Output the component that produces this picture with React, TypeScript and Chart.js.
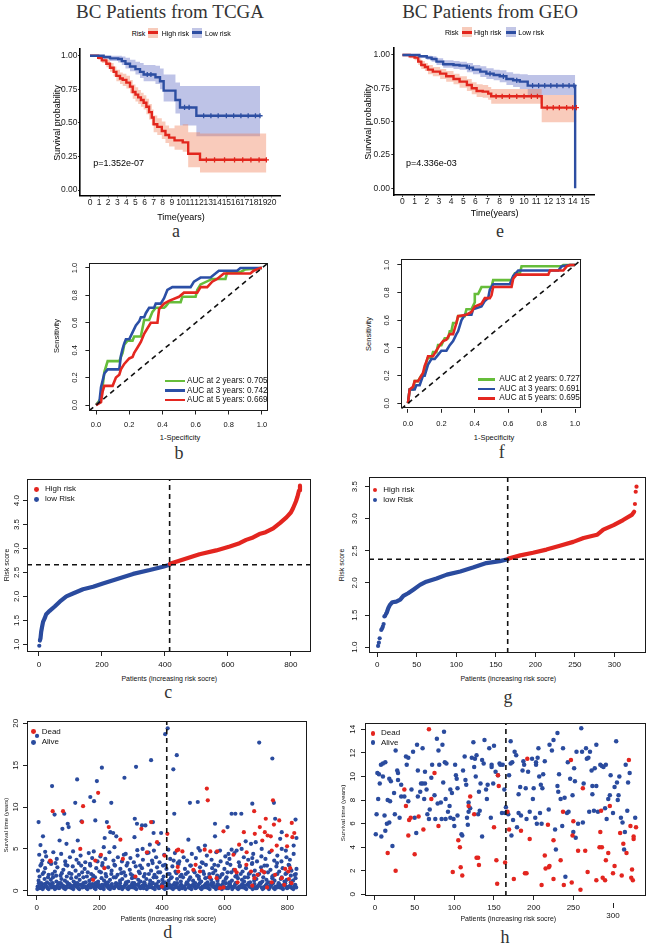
import React, { useEffect, useRef } from "react";
import { Chart, registerables } from "chart.js";

Chart.register(...registerables);

const SANS = "'Liberation Sans', Arial, Helvetica, sans-serif";
const SERIF = "'Liberation Serif', 'Times New Roman', Times, serif";
Chart.defaults.font.family = SANS;

/* ================= colours ================= */
const KM_RED = "#E2261D";
const KM_BLUE = "#2D4EA2";
const KM_RED_BAND = "rgba(240,125,85,0.40)";
const KM_BLUE_BAND = "rgba(85,98,192,0.38)";
const KM_RED_KEY = "#F7CBBB";
const KM_BLUE_KEY = "#C2C6E6";
const PT_RED = "#E3251F";
const PT_BLUE = "#2A4B9E";
const ROC_GREEN = "#66BD3A";
const ROC_BLUE = "#2B4FA6";
const ROC_RED = "#E42720";

/* ================= a: KM, TCGA ================= */
const A_X_TICKS = [0, 1, 2, 3, 4, 5, 6, 7, 8, 9, 10, 11, 12, 13, 14, 15, 16, 17, 18, 19, 20];
const A_X_LABELS = A_X_TICKS.map(String);
const KM_Y_TICKS = [0, 0.25, 0.5, 0.75, 1];
const KM_Y_LABELS = ["0.00", "0.25", "0.50", "0.75", "1.00"];

const A_HIGH_T = [0, 0.9, 1.3, 1.8, 2.2, 2.6, 2.9, 3.3, 3.6, 4.0, 4.4, 4.7, 5.0, 5.3, 5.6, 5.9, 6.2, 6.5, 6.8, 7.0, 7.4, 7.9, 8.3, 8.7, 9.3, 10.2, 10.8, 12.1, 19.4];
const A_HIGH_S = [1, 0.985, 0.965, 0.94, 0.91, 0.88, 0.85, 0.83, 0.82, 0.8, 0.77, 0.73, 0.71, 0.69, 0.67, 0.65, 0.62, 0.58, 0.54, 0.49, 0.47, 0.44, 0.41, 0.39, 0.37, 0.355, 0.27, 0.225, 0.225];
const A_HIGH_U = [1, 1, 1, 0.97, 0.945, 0.92, 0.895, 0.875, 0.865, 0.85, 0.82, 0.785, 0.765, 0.745, 0.725, 0.705, 0.68, 0.64, 0.6, 0.555, 0.535, 0.51, 0.48, 0.46, 0.48, 0.49, 0.43, 0.42, 0.42];
const A_HIGH_L = [1, 0.97, 0.945, 0.915, 0.88, 0.845, 0.81, 0.79, 0.775, 0.755, 0.72, 0.68, 0.66, 0.64, 0.62, 0.6, 0.565, 0.525, 0.485, 0.43, 0.41, 0.38, 0.35, 0.325, 0.3, 0.285, 0.17, 0.13, 0.13];
const A_HIGH_CENS = [[12.8, 0.225], [13.7, 0.225], [14.8, 0.225], [15.9, 0.225], [16.8, 0.225], [17.7, 0.225], [18.6, 0.225], [19.4, 0.225]];

const A_LOW_T = [0, 1.5, 2.2, 3.1, 3.5, 3.9, 4.4, 5.0, 5.5, 5.9, 7.2, 7.7, 8.1, 9.4, 9.9, 11.7, 18.7];
const A_LOW_S = [1, 0.99, 0.98, 0.975, 0.96, 0.94, 0.92, 0.9, 0.88, 0.86, 0.84, 0.81, 0.74, 0.67, 0.615, 0.553, 0.553];
const A_LOW_U = [1, 1, 1, 1, 0.995, 0.985, 0.97, 0.955, 0.945, 0.93, 0.925, 0.905, 0.86, 0.8, 0.775, 0.775, 0.775];
const A_LOW_L = [1, 0.975, 0.96, 0.95, 0.93, 0.905, 0.885, 0.86, 0.835, 0.81, 0.79, 0.75, 0.66, 0.57, 0.48, 0.4, 0.4];
const A_LOW_CENS = [[6.3, 0.86], [6.7, 0.86], [10.4, 0.615], [10.9, 0.615], [12.5, 0.553], [13.3, 0.553], [14.1, 0.553], [15.0, 0.553], [15.8, 0.553], [16.6, 0.553], [17.4, 0.553], [18.2, 0.553], [18.7, 0.553]];

/* ================= e: KM, GEO ================= */
const E_X_TICKS = [0, 1, 2, 3, 4, 5, 6, 7, 8, 9, 10, 11, 12, 13, 14, 15];
const E_X_LABELS = E_X_TICKS.map(String);

const E_HIGH_T = [0, 0.6, 1.0, 1.3, 1.55, 1.85, 2.1, 2.5, 3.1, 3.6, 4.2, 4.7, 5.3, 5.7, 6.1, 6.6, 7.05, 7.3, 11.45, 14.3];
const E_HIGH_S = [1, 0.99, 0.98, 0.95, 0.925, 0.91, 0.89, 0.875, 0.86, 0.84, 0.82, 0.8, 0.775, 0.75, 0.73, 0.725, 0.71, 0.69, 0.605, 0.605];
const E_HIGH_U = [1, 1, 0.995, 0.975, 0.955, 0.94, 0.925, 0.91, 0.895, 0.88, 0.86, 0.84, 0.82, 0.795, 0.78, 0.775, 0.76, 0.745, 0.7, 0.7];
const E_HIGH_L = [1, 0.975, 0.96, 0.925, 0.895, 0.88, 0.855, 0.84, 0.82, 0.8, 0.78, 0.755, 0.73, 0.705, 0.685, 0.68, 0.665, 0.635, 0.495, 0.495];
const E_HIGH_CENS = [[7.7, 0.69], [8.2, 0.69], [8.8, 0.69], [9.4, 0.69], [10.0, 0.69], [10.6, 0.69], [11.1, 0.69], [11.9, 0.605], [12.4, 0.605], [12.9, 0.605], [13.5, 0.605], [14.0, 0.605], [14.3, 0.605]];

const E_LOW_T = [0, 1.15, 1.4, 2.0, 2.4, 2.8, 3.35, 4.2, 4.7, 5.3, 5.8, 6.4, 6.9, 7.5, 8.0, 8.55, 9.1, 9.65, 10.3, 14.18, 14.2];
const E_LOW_S = [1, 1, 0.99, 0.98, 0.97, 0.95, 0.93, 0.925, 0.92, 0.905, 0.89, 0.875, 0.86, 0.85, 0.84, 0.82, 0.81, 0.8, 0.77, 0.77, 0];
const E_LOW_U = [1, 1, 1, 0.995, 0.99, 0.975, 0.96, 0.955, 0.95, 0.94, 0.925, 0.915, 0.9, 0.89, 0.885, 0.87, 0.86, 0.855, 0.85, 0.85, 0.85];
const E_LOW_L = [1, 1, 0.98, 0.965, 0.95, 0.925, 0.905, 0.895, 0.89, 0.87, 0.855, 0.835, 0.82, 0.81, 0.795, 0.775, 0.76, 0.745, 0.7, 0.7, 0.7];
const E_LOW_CENS = [[5.5, 0.905], [7.2, 0.86], [8.3, 0.84], [9.4, 0.81], [10.7, 0.77], [11.2, 0.77], [11.7, 0.77], [12.2, 0.77], [12.7, 0.77], [13.2, 0.77], [13.7, 0.77], [14.1, 0.77]];

/* ================= b / f: time-dependent ROC ================= */
const ROC_TICKS = [0, 0.2, 0.4, 0.6, 0.8, 1.0];
const ROC_LABELS = ["0.0", "0.2", "0.4", "0.6", "0.8", "1.0"];
const ROC_MIN = -0.04;
const ROC_MAX = 1.04;

const B_GREEN = [[0, 0], [0.03, 0.05], [0.04, 0.14], [0.05, 0.24], [0.07, 0.32], [0.14, 0.32], [0.16, 0.38], [0.17, 0.44], [0.19, 0.47], [0.22, 0.47], [0.23, 0.5], [0.27, 0.5], [0.28, 0.56], [0.29, 0.62], [0.32, 0.62], [0.34, 0.68], [0.36, 0.71], [0.41, 0.71], [0.42, 0.72], [0.44, 0.75], [0.51, 0.75], [0.52, 0.79], [0.6, 0.79], [0.61, 0.84], [0.63, 0.88], [0.7, 0.92], [0.78, 0.92], [0.79, 0.97], [0.87, 0.97], [0.9, 0.99], [1, 1]];
const B_BLUE = [[0, 0], [0.02, 0.02], [0.03, 0.13], [0.05, 0.23], [0.07, 0.26], [0.14, 0.26], [0.15, 0.36], [0.16, 0.41], [0.17, 0.45], [0.18, 0.48], [0.2, 0.48], [0.22, 0.53], [0.24, 0.58], [0.26, 0.61], [0.27, 0.64], [0.29, 0.64], [0.3, 0.67], [0.32, 0.71], [0.35, 0.71], [0.36, 0.74], [0.39, 0.74], [0.41, 0.78], [0.43, 0.84], [0.46, 0.86], [0.57, 0.86], [0.59, 0.9], [0.63, 0.93], [0.69, 0.93], [0.74, 0.98], [0.85, 0.98], [0.87, 1.0], [1, 1]];
const B_RED = [[0, 0], [0.03, 0.02], [0.04, 0.1], [0.05, 0.14], [0.1, 0.14], [0.12, 0.2], [0.14, 0.22], [0.15, 0.26], [0.17, 0.3], [0.2, 0.34], [0.22, 0.35], [0.23, 0.38], [0.25, 0.42], [0.27, 0.46], [0.29, 0.52], [0.31, 0.56], [0.33, 0.6], [0.37, 0.6], [0.38, 0.7], [0.41, 0.74], [0.44, 0.76], [0.5, 0.79], [0.53, 0.82], [0.61, 0.82], [0.63, 0.86], [0.67, 0.86], [0.7, 0.9], [0.73, 0.92], [0.77, 0.96], [0.93, 0.96], [0.95, 0.98], [0.99, 1.0], [1, 1]];

const F_GREEN = [[0, 0], [0.01, 0.1], [0.03, 0.1], [0.04, 0.16], [0.06, 0.16], [0.08, 0.2], [0.1, 0.22], [0.11, 0.3], [0.12, 0.33], [0.14, 0.33], [0.15, 0.37], [0.17, 0.37], [0.18, 0.42], [0.2, 0.42], [0.22, 0.47], [0.24, 0.47], [0.25, 0.52], [0.26, 0.52], [0.27, 0.58], [0.29, 0.58], [0.3, 0.63], [0.34, 0.63], [0.35, 0.68], [0.38, 0.68], [0.4, 0.73], [0.4, 0.79], [0.42, 0.79], [0.44, 0.84], [0.5, 0.84], [0.51, 0.89], [0.62, 0.89], [0.64, 0.94], [0.67, 0.94], [0.68, 0.99], [0.92, 0.99], [0.93, 1.0], [1, 1]];
const F_BLUE = [[0, 0], [0.01, 0.1], [0.04, 0.1], [0.05, 0.13], [0.07, 0.13], [0.09, 0.2], [0.1, 0.2], [0.12, 0.28], [0.14, 0.32], [0.16, 0.32], [0.18, 0.35], [0.2, 0.38], [0.23, 0.38], [0.25, 0.42], [0.27, 0.45], [0.29, 0.5], [0.3, 0.52], [0.32, 0.6], [0.34, 0.64], [0.38, 0.64], [0.39, 0.68], [0.44, 0.7], [0.46, 0.74], [0.48, 0.76], [0.49, 0.82], [0.51, 0.86], [0.61, 0.86], [0.63, 0.92], [0.66, 0.96], [0.9, 0.96], [0.92, 0.99], [0.97, 1.0], [1, 1]];
const F_RED = [[0, 0], [0.01, 0.1], [0.03, 0.12], [0.04, 0.16], [0.06, 0.16], [0.08, 0.2], [0.09, 0.22], [0.1, 0.27], [0.11, 0.3], [0.12, 0.34], [0.15, 0.34], [0.17, 0.38], [0.19, 0.42], [0.21, 0.45], [0.23, 0.46], [0.25, 0.5], [0.27, 0.5], [0.29, 0.58], [0.3, 0.63], [0.35, 0.64], [0.38, 0.66], [0.4, 0.7], [0.44, 0.72], [0.46, 0.76], [0.49, 0.76], [0.5, 0.78], [0.51, 0.84], [0.62, 0.84], [0.63, 0.9], [0.65, 0.93], [0.84, 0.93], [0.85, 0.96], [0.93, 0.96], [0.95, 0.99], [0.97, 1.0], [1, 1]];

const B_LEGEND = ["AUC at 2 years: 0.705", "AUC at 3 years: 0.742", "AUC at 5 years: 0.669"];
const F_LEGEND = ["AUC at 2 years: 0.727", "AUC at 3 years: 0.691", "AUC at 5 years: 0.695"];

/* ================= c / g: risk score curves ================= */
const C_X_TICKS = [0, 200, 400, 600, 800];
const C_Y_TICKS = [1.0, 1.5, 2.0, 2.5, 3.0, 3.5, 4.0];
const C_Y_LABELS = ["1.0", "1.5", "2.0", "2.5", "3.0", "3.5", "4.0"];
const C_X_MIN = -38, C_X_MAX = 864, C_Y_MIN = 0.84, C_Y_MAX = 4.45;
const C_CUT_INDEX = 415;
const C_CUT_SCORE = 2.66;
const C_LOW_DOTS = [[1, 0.97]];
const C_LOW = [[3, 1.08], [5, 1.13], [7, 1.26], [10, 1.37], [13, 1.47], [18, 1.54], [23, 1.63], [34, 1.7], [50, 1.79], [66, 1.89], [87, 2.0], [108, 2.06], [140, 2.15], [172, 2.2], [203, 2.27], [246, 2.36], [299, 2.47], [352, 2.55], [394, 2.62], [415, 2.66]];
const C_HIGH = [[416, 2.68], [468, 2.79], [510, 2.88], [563, 2.96], [606, 3.04], [637, 3.11], [658, 3.18], [680, 3.23], [700, 3.3], [720, 3.34], [744, 3.42], [765, 3.53], [786, 3.65], [800, 3.75], [807, 3.84], [816, 3.98], [821, 4.08], [826, 4.21], [829, 4.31]];

const G_X_TICKS = [0, 50, 100, 150, 200, 250, 300];
const G_Y_TICKS = [1.0, 1.5, 2.0, 2.5, 3.0, 3.5];
const G_Y_LABELS = ["1.0", "1.5", "2.0", "2.5", "3.0", "3.5"];
const G_X_MIN = -10.5, G_X_MAX = 340, G_Y_MIN = 0.91, G_Y_MAX = 3.65;
const G_CUT_INDEX = 165;
const G_CUT_SCORE = 2.37;
const G_LOW_DOTS = [[1, 1.02], [2, 1.07], [3, 1.14], [5, 1.27], [6, 1.29], [7, 1.32], [8, 1.36], [9, 1.48], [10, 1.49]];
const G_LOW = [[11, 1.52], [12, 1.54], [14, 1.61], [16, 1.66], [19, 1.7], [24, 1.71], [29, 1.74], [33, 1.8], [39, 1.84], [46, 1.9], [54, 1.97], [62, 2.02], [75, 2.07], [88, 2.13], [105, 2.18], [121, 2.24], [138, 2.31], [155, 2.34], [165, 2.37]];
const G_HIGH = [[166, 2.38], [181, 2.43], [197, 2.47], [214, 2.52], [231, 2.58], [248, 2.64], [261, 2.7], [278, 2.75], [286, 2.83], [299, 2.9], [311, 2.98], [322, 3.06], [325, 3.11]];
const G_HIGH_DOTS = [[326, 3.23], [327, 3.42], [328, 3.5]];

/* ================= d / h: survival status scatter ================= */
const D_X_TICKS = [0, 200, 400, 600, 800];
const D_Y_TICKS = [0, 5, 10, 15, 20];
const D_X_MIN = -31, D_X_MAX = 862.6, D_Y_MIN = -0.63, D_Y_MAX = 20.28;
const D_CUT_INDEX = 415;
const D_DEAD = [[43, 3.6], [45, 3.5], [51, 9.5], [84, 9.5], [139, 5.0], [145, 8.2], [148, 10.1], [180, 1.3], [187, 3.6], [196, 11.7], [205, 4.3], [216, 2.7], [230, 7.6], [267, 6.1], [275, 3.8], [315, 1.7], [334, 7.4], [352, 4.6], [365, 8.2], [384, 5.8], [400, 0.5], [408, 4.2], [417, 6.8], [447, 4.8], [450, 2.85], [452, 4.9], [452, 2.3], [465, 4.7], [500, 2.5], [507, 3.1], [521, 2.3], [536, 4.9], [543, 12.2], [546, 10.8], [553, 1.6], [554, 4.7], [574, 1.5], [576, 4.7], [585, 0.3], [596, 7.1], [596, 0.4], [628, 4.3], [633, 2.5], [638, 2.2], [641, 1.0], [646, 5.5], [661, 7.0], [669, 3.1], [670, 4.6], [684, 2.3], [688, 0.6], [694, 9.5], [695, 1.5], [696, 6.8], [705, 1.9], [712, 7.6], [718, 2.4], [720, 6.0], [726, 2.2], [728, 7.0], [731, 8.6], [735, 0.4], [737, 6.6], [747, 6.5], [750, 4.8], [750, 1.0], [754, 10.8], [757, 7.9], [761, 1.9], [766, 5.4], [774, 8.4], [782, 1.5], [790, 0.7], [793, 2.6], [798, 6.6], [799, 5.3], [803, 2.3], [805, 1.4], [809, 2.7], [813, 0.9], [814, 8.1], [816, 6.4], [822, 6.9]];
const D_ALIVE = [
  [1, 18.5], [6, 8.2], [12, 5.45], [20, 6.5], [27, 4.65], [49, 12.5], [57, 9.1], [73, 6.0], [82, 7.4], [88, 9.2], [95, 5.6], [99, 8.0], [102, 7.6], [123, 10.5], [129, 13.3], [131, 6.0], [143, 8.3], [171, 11.2], [182, 4.7], [183, 10.7], [187, 8.4], [192, 13.1], [208, 14.7], [214, 5.2], [217, 6.3], [224, 8.2], [235, 7.0], [238, 10.5], [244, 6.9], [248, 5.2], [254, 6.5], [278, 4.3], [280, 13.5], [312, 6.4], [313, 8.6], [317, 14.8], [320, 8.0], [321, 4.85], [336, 7.8], [338, 5.0], [347, 7.8], [357, 4.55], [361, 5.5], [365, 15.6], [371, 8.2], [373, 6.9], [374, 4.8], [389, 5.6], [397, 6.9], [410, 18.7], [418, 19.4], [420, 4.9], [436, 14.5], [437, 3.6], [439, 9.2], [447, 16.2], [484, 6.1], [489, 10.5], [514, 10.6], [516, 5.1], [521, 4.8], [537, 5.4], [569, 8.0], [569, 6.5], [585, 4.8], [609, 7.6], [612, 4.4], [622, 9.2], [622, 4.9], [634, 9.2], [638, 4.8], [653, 9.2], [654, 5.0], [667, 5.9], [684, 5.6], [688, 10.4], [688, 3.9], [699, 5.8], [710, 17.7], [718, 5.0], [752, 15.8], [757, 10.5], [761, 8.6], [777, 6.2], [782, 7.0], [782, 5.0], [795, 4.8], [820, 5.4], [826, 8.5], [829, 6.3],
  [3, 0.5], [10, 0.3], [16, 0.7], [22, 0.4], [29, 0.6], [35, 0.3], [42, 0.8], [48, 0.4], [55, 0.5], [61, 0.3], [68, 0.7], [74, 0.4], [81, 0.6], [87, 0.3], [94, 0.5], [100, 0.8], [107, 0.4], [113, 0.3], [120, 0.6], [126, 0.5], [133, 0.3], [139, 0.7], [146, 0.4], [152, 0.5], [159, 0.3], [165, 0.6], [172, 0.4], [178, 0.8], [185, 0.3], [191, 0.5], [198, 0.6], [204, 0.3], [211, 0.4], [217, 0.7], [224, 0.5], [230, 0.3], [237, 0.6], [243, 0.4], [250, 0.5], [256, 0.8], [263, 0.3], [269, 0.5], [276, 0.4], [282, 0.7], [289, 0.3], [295, 0.5], [302, 0.6], [308, 0.4], [315, 0.3], [321, 0.7], [328, 0.5], [334, 0.4], [341, 0.3], [347, 0.6], [354, 0.5], [360, 0.8], [367, 0.4], [373, 0.3], [380, 0.6], [386, 0.5], [393, 0.4], [399, 0.7], [406, 0.3], [412, 0.5], [419, 0.6], [425, 0.4], [432, 0.3], [438, 0.7], [445, 0.5], [451, 0.4], [458, 0.6], [464, 0.3], [471, 0.5], [477, 0.8], [484, 0.4], [490, 0.3], [497, 0.6], [503, 0.5], [510, 0.4], [516, 0.7], [523, 0.3], [529, 0.5], [536, 0.6], [542, 0.4], [549, 0.3], [555, 0.7], [562, 0.5], [568, 0.4], [575, 0.6], [581, 0.3], [588, 0.5], [594, 0.8], [601, 0.4], [607, 0.3], [614, 0.6], [620, 0.5], [627, 0.4], [633, 0.7], [640, 0.3], [646, 0.5], [653, 0.6], [659, 0.4], [666, 0.3], [672, 0.7], [679, 0.5], [685, 0.4], [692, 0.6], [698, 0.3], [705, 0.5], [711, 0.8], [718, 0.4], [724, 0.3], [731, 0.6], [737, 0.5], [744, 0.4], [750, 0.7], [757, 0.3], [763, 0.5], [770, 0.6], [776, 0.4], [783, 0.3], [789, 0.7], [796, 0.5], [802, 0.4], [809, 0.6], [815, 0.3], [822, 0.5], [828, 0.4],
  [2, 0.2], [7, 0.9], [13, 0.5], [19, 0.2], [25, 0.8], [32, 0.5], [38, 0.2], [45, 0.6], [51, 0.9], [58, 0.2], [64, 0.5], [71, 0.3], [77, 0.9], [84, 0.6], [91, 0.2], [97, 0.4], [104, 0.8], [110, 0.6], [117, 0.2], [123, 0.9], [130, 0.5], [136, 0.2], [143, 0.7], [149, 0.9], [156, 0.5], [162, 0.2], [169, 0.8], [175, 0.5], [182, 0.6], [188, 0.2], [195, 0.9], [201, 0.4], [208, 0.7], [214, 0.2], [221, 0.9], [227, 0.6], [234, 0.2], [240, 0.8], [247, 0.3], [253, 0.6], [260, 0.5], [266, 0.9], [273, 0.2], [279, 0.5], [286, 0.8], [292, 0.2], [299, 0.4], [305, 0.9], [312, 0.6], [318, 0.2], [325, 0.8], [331, 0.3], [338, 0.6], [344, 0.9], [351, 0.2], [357, 0.4], [364, 0.6], [370, 0.9], [377, 0.2], [383, 0.8], [390, 0.3], [396, 0.5], [403, 0.9], [409, 0.2], [416, 0.3], [422, 0.8], [429, 0.6], [435, 0.2], [442, 0.4], [448, 0.9], [455, 0.2], [461, 0.7], [468, 0.5], [474, 0.2], [481, 0.9], [487, 0.6], [494, 0.2], [500, 0.8], [507, 0.3], [513, 0.5], [520, 0.9], [526, 0.2], [533, 0.4], [539, 0.8], [546, 0.6], [552, 0.2], [559, 0.9], [565, 0.5], [572, 0.2], [578, 0.8], [585, 0.6], [591, 0.2], [598, 0.4], [604, 0.9], [611, 0.3], [617, 0.8], [624, 0.2], [630, 0.5], [637, 0.9], [643, 0.2], [650, 0.4], [656, 0.8], [663, 0.6], [669, 0.2], [676, 0.9], [682, 0.5], [689, 0.2], [695, 0.8], [702, 0.3], [708, 0.6], [715, 0.9], [721, 0.2], [728, 0.5], [734, 0.8], [741, 0.2], [747, 0.6], [754, 0.9], [760, 0.2], [767, 0.4], [773, 0.8], [780, 0.6], [786, 0.2], [793, 0.9], [799, 0.3], [806, 0.5], [812, 0.8], [819, 0.2], [825, 0.7],
  [6, 1.2], [14, 0.9], [25, 1.4], [33, 1.0], [45, 1.3], [52, 1.6], [63, 1.1], [71, 0.9], [79, 1.4], [90, 1.2], [97, 1.0], [110, 1.5], [118, 1.1], [130, 0.9], [137, 1.3], [149, 1.6], [156, 1.0], [168, 1.2], [176, 1.4], [188, 0.9], [196, 1.1], [207, 1.5], [215, 1.2], [227, 1.0], [234, 1.3], [246, 1.6], [253, 0.9], [266, 1.2], [273, 1.4], [285, 1.0], [292, 1.1], [304, 1.5], [311, 0.9], [324, 1.3], [331, 1.1], [343, 1.0], [350, 1.4], [362, 1.2], [370, 0.9], [382, 1.6], [389, 1.1], [401, 1.3], [409, 1.0], [421, 1.2], [428, 1.5], [440, 0.9], [448, 1.4], [460, 1.1], [467, 1.6], [479, 1.0], [486, 1.3], [499, 1.2], [506, 0.9], [518, 1.4], [525, 1.1], [538, 1.5], [545, 1.0], [557, 1.3], [564, 0.9], [577, 1.2], [584, 1.6], [596, 1.1], [603, 1.4], [616, 1.0], [623, 1.2], [635, 0.9], [642, 1.5], [655, 1.3], [662, 1.1], [674, 1.6], [681, 1.0], [694, 1.2], [701, 1.4], [713, 0.9], [720, 1.1], [733, 1.3], [740, 1.0], [752, 1.5], [759, 1.2], [772, 0.9], [779, 1.4], [791, 1.1], [798, 1.3], [811, 1.0], [818, 1.2], [826, 1.5],
  [9, 1.7], [23, 2.2], [36, 1.6], [50, 2.0], [62, 1.8], [80, 2.1], [96, 1.7], [111, 2.0], [126, 1.6], [145, 2.2], [160, 1.7], [174, 2.0], [186, 1.6], [205, 2.2], [222, 1.7], [238, 2.0], [252, 1.6], [270, 2.1], [283, 1.8], [300, 2.0], [314, 1.6], [329, 2.1], [342, 1.7], [358, 2.0], [373, 1.6], [388, 2.2], [405, 1.7], [418, 2.0], [431, 1.6], [446, 2.1], [458, 1.7], [476, 2.0], [490, 1.6], [504, 2.2], [517, 1.7], [534, 2.0], [548, 1.6], [563, 2.1], [576, 1.8], [593, 2.0], [606, 1.6], [621, 2.2], [634, 1.7], [651, 2.0], [664, 1.6], [680, 2.1], [693, 1.8], [710, 2.0], [723, 1.6], [738, 2.2], [752, 1.7], [768, 2.0], [782, 1.6], [797, 2.1], [811, 1.8], [827, 2.0],
  [4, 2.4], [12, 3.0], [19, 2.0], [27, 2.7], [38, 1.9], [46, 3.2], [58, 2.3], [66, 2.8], [76, 1.8], [85, 2.5], [92, 3.1], [104, 2.1], [115, 2.9], [124, 2.4], [135, 1.9], [142, 3.0], [153, 2.6], [163, 2.2], [170, 3.2], [180, 1.8], [190, 2.7], [200, 2.3], [209, 3.0], [220, 2.0], [228, 2.8], [239, 2.4], [248, 3.1], [258, 1.9], [267, 2.6], [278, 2.2], [287, 3.0], [297, 2.5], [306, 1.8], [316, 2.9], [326, 2.3], [336, 2.7], [345, 2.0], [356, 3.1], [365, 2.4], [376, 1.9], [384, 2.8], [394, 2.2], [403, 3.0], [414, 2.6], [424, 2.0], [433, 2.9], [443, 2.3], [453, 3.2], [462, 1.9], [473, 2.6], [482, 2.2], [492, 3.0], [501, 2.4], [512, 1.8], [521, 2.8], [531, 2.3], [540, 3.1], [551, 2.0], [560, 2.7], [570, 2.4], [579, 3.0], [590, 1.9], [599, 2.6], [609, 2.2], [618, 3.1], [629, 2.5], [638, 1.8], [648, 2.9], [657, 2.3], [668, 2.7], [677, 2.0], [687, 3.2], [696, 2.4], [707, 1.9], [716, 2.8], [726, 2.2], [735, 3.0], [746, 2.5], [755, 1.8], [765, 2.9], [774, 2.3], [785, 2.7], [794, 2.0], [804, 3.1], [813, 2.4], [823, 1.9], [829, 2.6],
  [15, 3.2], [60, 3.3], [98, 3.0], [134, 3.3], [171, 3.0], [210, 3.3], [250, 3.0], [290, 3.3], [330, 3.0], [370, 3.3], [410, 3.1], [450, 3.3], [490, 3.0], [530, 3.3], [567, 3.1], [608, 3.3], [648, 3.0], [688, 3.3], [727, 3.0], [767, 3.3], [806, 3.0],
  [8, 4.3], [18, 3.6], [30, 4.1], [40, 3.4], [53, 4.6], [64, 3.8], [78, 4.4], [91, 3.5], [106, 4.0], [116, 4.7], [127, 3.7], [140, 4.2], [155, 3.4], [166, 4.5], [177, 3.9], [194, 3.5], [203, 4.1], [219, 3.8], [232, 4.6], [245, 3.6], [259, 4.0], [272, 3.5], [284, 4.4], [299, 3.9], [310, 3.4], [322, 4.2], [339, 3.7], [352, 4.5], [368, 3.6], [381, 4.0], [392, 3.4], [407, 4.3], [426, 3.8], [441, 4.5], [455, 3.5], [469, 4.0], [480, 3.6], [495, 4.4], [508, 3.9], [527, 3.4], [543, 4.2], [558, 3.7], [573, 4.6], [587, 3.5], [602, 4.1], [615, 3.8], [631, 4.5], [645, 3.4], [661, 4.0], [675, 3.7], [691, 4.4], [703, 3.5], [717, 4.1], [730, 3.8], [743, 4.6], [758, 3.6], [768, 4.2], [781, 3.5], [797, 4.0], [808, 3.7], [820, 4.4],
];

const H_X_TICKS = [0, 50, 100, 150, 200, 250, 300];
const H_X_LABELS: (string | string[])[] = ["0", "50", "100", "150", "200", "250", ["", "300"]];
const H_LOWERED_TICK = 300;
const H_Y_TICKS = [0, 2, 4, 6, 8, 10, 12, 14];
const H_X_MIN = -12.6, H_X_MAX = 341.6, H_Y_MIN = -0.14, H_Y_MAX = 14.54;
const H_CUT_INDEX = 165;
const H_DEAD = [[16, 3.5], [26, 2.0], [37, 8.9], [39, 7.5], [42, 5.0], [43, 6.3], [45, 6.5], [50, 3.4], [55, 6.6], [61, 5.5], [68, 14.0], [71, 8.1], [75, 10.3], [80, 5.8], [98, 1.9], [105, 4.6], [107, 4.0], [108, 2.3], [110, 1.6], [118, 7.5], [120, 8.3], [125, 6.8], [128, 3.1], [130, 3.1], [131, 2.5], [150, 5.7], [153, 2.9], [154, 0.9], [155, 10.1], [156, 9.2], [164, 2.7], [167, 7.0], [169, 5.5], [175, 1.3], [184, 5.4], [189, 1.8], [191, 1.8], [192, 11.5], [195, 4.7], [210, 0.8], [214, 3.3], [215, 2.2], [218, 5.9], [219, 2.3], [220, 2.4], [225, 4.6], [225, 1.3], [234, 2.9], [237, 7.0], [238, 0.8], [247, 11.4], [248, 1.0], [249, 5.0], [250, 6.2], [256, 3.7], [259, 0.4], [262, 9.0], [265, 3.7], [268, 1.9], [279, 1.2], [283, 4.0], [284, 5.3], [285, 7.1], [286, 4.0], [287, 1.4], [290, 1.2], [291, 2.9], [294, 3.5], [296, 7.5], [300, 1.8], [302, 2.4], [309, 5.2], [311, 1.6], [313, 4.3], [317, 3.5], [320, 11.4], [322, 5.8], [323, 1.4], [324, 2.1], [325, 1.2], [326, 4.7], [326, 4.9], [329, 5.7]];
const H_ALIVE = [[1, 5.1], [2, 6.8], [3, 10.3], [4, 8.1], [5, 10.2], [6, 9.4], [7.5, 11.0], [8, 4.9], [10, 11.1], [10, 10.0], [12, 6.7], [13, 11.2], [13, 5.4], [15, 6.0], [16, 8.0], [18, 6.1], [18, 9.8], [19, 7.9], [20, 9.6], [22, 4.1], [24, 8.6], [25, 6.8], [26, 12.2], [28, 10.5], [29, 10.3], [29, 9.7], [31, 6.5], [33, 9.3], [33, 8.3], [37, 8.3], [39, 11.7], [40, 11.0], [42, 11.6], [42, 7.9], [46, 8.9], [48, 12.1], [50, 6.5], [52, 5.2], [53, 12.7], [54, 10.5], [54, 8.3], [57, 8.7], [58, 9.4], [60, 12.4], [60, 9.4], [62, 8.1], [63, 10.4], [63, 9.4], [65, 8.9], [66, 6.8], [68, 6.4], [69, 7.2], [71, 9.9], [72, 11.0], [75, 8.4], [76, 6.4], [78, 13.2], [79, 7.7], [80, 12.2], [81, 11.0], [83, 7.8], [84, 6.4], [85, 12.7], [86, 9.5], [87, 13.8], [88, 11.2], [89, 8.1], [90, 11.1], [89, 6.4], [92, 7.0], [94, 7.5], [95, 8.9], [95, 6.5], [97, 8.6], [99, 6.4], [100, 5.8], [101, 11.0], [102, 10.1], [103, 9.8], [104, 9.0], [104, 6.7], [109, 5.1], [110, 5.0], [111, 10.5], [113, 11.7], [114, 9.7], [115, 9.3], [116, 6.5], [117, 5.9], [118, 7.0], [118, 7.8], [120, 7.3], [122, 11.6], [124, 12.9], [125, 10.8], [126, 11.5], [127, 10.0], [128, 11.8], [130, 6.8], [131, 8.7], [132, 7.1], [133, 9.4], [135, 4.9], [135, 11.4], [137, 11.1], [138, 13.1], [140, 8.9], [141, 8.1], [142, 9.3], [144, 12.4], [146, 6.5], [147, 11.0], [147, 10.8], [149, 9.4], [150, 12.6], [152, 10.4], [155, 10.1], [157, 11.1], [158, 11.0], [160, 6.9], [161, 11.0], [163, 8.9], [164, 6.9], [165, 7.4], [168, 6.8], [169, 10.1], [171, 13.0], [171, 11.1], [172, 5.0], [173, 11.2], [174, 6.3], [176, 12.1], [178, 11.8], [179, 5.7], [181, 6.9], [181, 8.5], [183, 9.1], [184, 6.7], [186, 10.5], [187, 11.3], [188, 11.0], [190, 9.0], [191, 6.4], [193, 10.4], [195, 7.0], [198, 11.5], [199, 8.1], [200, 9.0], [202, 6.5], [203, 11.2], [203, 11.0], [204, 6.0], [205, 11.6], [206, 12.4], [207, 10.0], [208, 6.9], [209, 9.3], [210, 6.0], [211, 9.0], [212, 10.2], [214, 11.3], [219, 7.2], [220, 12.7], [223, 12.2], [225, 13.1], [227, 5.5], [228, 3.8], [230, 13.7], [230, 9.2], [231, 8.7], [232, 10.2], [234, 8.1], [236, 5.8], [237, 12.4], [239, 8.2], [240, 1.5], [242, 6.9], [243, 11.2], [244, 7.0], [246, 9.8], [249, 8.4], [250, 5.3], [251, 10.7], [252, 9.6], [253, 4.8], [254, 12.1], [256, 6.0], [260, 14.1], [261, 12.1], [262, 6.1], [263, 9.4], [266, 12.4], [267, 11.5], [269, 11.6], [270, 7.0], [271, 12.1], [273, 10.5], [274, 9.2], [274, 8.5], [276, 7.1], [277, 10.7], [279, 12.7], [279, 9.2], [281, 7.0], [284, 11.0], [286, 10.9], [288, 10.8], [290, 7.3], [291, 11.0], [292, 6.4], [294, 8.1], [296, 8.4], [297, 10.1], [300, 6.9], [302, 9.1], [304, 13.0], [305, 9.5], [306, 8.0], [307, 8.4], [308, 10.0], [310, 6.5], [312, 6.1], [314, 3.8], [315, 5.3], [316, 11.0], [318, 7.1], [319, 9.5], [321, 10.3], [328, 6.5]];

/* ================= helpers ================= */
type Area = [number, number, number, number];

function frame(area: Area, wy: number, hx: number) {
  const cx = Math.max(0, Math.floor(area[0] - wy - 2));
  const cy = Math.max(0, Math.floor(area[1] - 12));
  const r = Math.min(651, Math.ceil(area[2] + 12));
  const b = Math.min(945, Math.ceil(area[3] + hx + 3));
  return {
    cx, cy, cw: r - cx, ch: b - cy,
    padding: { left: area[0] - wy - cx, top: area[1] - cy, right: r - area[2], bottom: b - area[3] - hx },
  };
}

const zip = (t: number[], v: number[]) => t.map((x, i) => ({ x, y: v[i] }));
const pts = (a: number[][]) => a.map(([x, y]) => ({ x, y }));
const fixedTicks = (vals: number[]) => (s: any) => { s.ticks = vals.map((value) => ({ value })); };

const boxPlugin = {
  id: "rbox",
  afterDatasetsDraw(chart: any) {
    const { ctx, chartArea: a } = chart;
    ctx.save();
    ctx.strokeStyle = "#1a1a1a";
    ctx.lineWidth = 1;
    ctx.strokeRect(Math.round(a.left) + 0.5, Math.round(a.top) + 0.5, Math.round(a.right - a.left) - 1, Math.round(a.bottom - a.top) - 1);
    ctx.restore();
  },
};

// short tick mark drawn a little below the axis for one tick value (as in panel h)
const loweredTickPlugin = {
  id: "loweredTick",
  afterDraw(chart: any) {
    const s = chart.scales.x;
    const px = Math.round(s.getPixelForValue(H_LOWERED_TICK)) + 0.5;
    const ctx = chart.ctx;
    ctx.save();
    ctx.strokeStyle = "#222";
    ctx.lineWidth = 1;
    ctx.beginPath();
    ctx.moveTo(px, s.top + 7);
    ctx.lineTo(px, s.top + 12);
    ctx.stroke();
    ctx.restore();
  },
};

function baseOptions(fr: any, scales: any) {
  return {
    responsive: false,
    maintainAspectRatio: false,
    animation: false,
    devicePixelRatio: 1,
    events: [],
    layout: { padding: fr.padding },
    plugins: { legend: { display: false }, tooltip: { enabled: false }, title: { display: false } },
    elements: { point: { radius: 0, hoverRadius: 0 }, line: { tension: 0 } },
    scales,
  };
}

function kmScales(xMin: number, xMax: number, xTicks: number[], xLabels: string[], yMin: number, yMax: number, wy: number, hx: number, yPad: number) {
  const font = { size: 8.5, family: SANS };
  const grid = { display: true, drawOnChartArea: false, drawTicks: true, tickLength: 2, color: "#333", lineWidth: 1 };
  const border = { display: true, color: "#000", width: 1.6 };
  return {
    x: {
      type: "linear", min: xMin, max: xMax, afterBuildTicks: fixedTicks(xTicks), afterFit: (s: any) => { s.height = hx; },
      ticks: { autoSkip: false, maxRotation: 0, minRotation: 0, padding: 0, color: "#222", font, callback: (_v: any, i: number) => xLabels[i] },
      grid, border,
    },
    y: {
      type: "linear", min: yMin, max: yMax, afterBuildTicks: fixedTicks(KM_Y_TICKS), afterFit: (s: any) => { s.width = wy; },
      ticks: { autoSkip: false, padding: yPad, color: "#222", font, callback: (_v: any, i: number) => KM_Y_LABELS[i] },
      grid, border,
    },
  };
}

function kmDatasets(h: any, lo: any) {
  const line = (data: any, color: string) => ({ data, borderColor: color, borderWidth: 2.4, stepped: true, pointRadius: 0, fill: false });
  const cens = (data: any, color: string) => ({ data, showLine: false, pointStyle: "cross", pointRadius: 2.6, borderColor: color, backgroundColor: color, borderWidth: 1.3 });
  const band = (data: any, color: string, fill: any) => ({ data, borderColor: "rgba(0,0,0,0)", borderWidth: 1, stepped: true, pointRadius: 0, backgroundColor: color, fill });
  return [
    cens(pts(lo.c), KM_BLUE),
    cens(pts(h.c), KM_RED),
    line(zip(lo.t, lo.s), KM_BLUE),
    line(zip(h.t, h.s), KM_RED),
    band(zip(h.t, h.u), KM_RED_BAND, "+1"),
    band(zip(h.t, h.l), KM_RED_BAND, false),
    band(zip(lo.t, lo.u), KM_BLUE_BAND, "+1"),
    band(zip(lo.t, lo.l), KM_BLUE_BAND, false),
  ];
}

function rScales(o: any) {
  const hidden = o.hiddenTick;
  const tickColor = (c: any) => (hidden !== undefined && c.tick && c.tick.value === hidden ? "rgba(0,0,0,0)" : "#222");
  const grid = { display: true, drawOnChartArea: false, drawTicks: true, tickLength: 4, color: "#222", lineWidth: 1 };
  const font = { size: o.font, family: SANS, lineHeight: o.lineHeight || 1.2 };
  const xLabels = o.xLabels || o.xTicks.map(String);
  const yLabels = o.yLabels || o.yTicks.map(String);
  return {
    x: {
      type: "linear", min: o.xMin, max: o.xMax, position: "bottom",
      afterBuildTicks: fixedTicks(o.xTicks), afterFit: (s: any) => { s.height = o.hx; },
      ticks: { autoSkip: false, maxRotation: 0, minRotation: 0, padding: o.xPad, color: "#111", font, callback: (_v: any, i: number) => xLabels[i] },
      grid: { ...grid, color: tickColor }, border: { display: false },
    },
    y: {
      type: "linear", min: o.yMin, max: o.yMax, position: "left",
      afterBuildTicks: fixedTicks(o.yTicks), afterFit: (s: any) => { s.width = o.wy; },
      ticks: { autoSkip: false, minRotation: 90, maxRotation: 90, crossAlign: "center", padding: o.yPad, color: "#111", font: { size: o.font, family: SANS }, callback: (_v: any, i: number) => yLabels[i] },
      grid, border: { display: false },
    },
  };
}

const dashed = (data: any) => ({ data, borderColor: "#111", borderWidth: 1.6, borderDash: [5, 4], pointRadius: 0, fill: false });
const curve = (data: any, color: string) => ({ data, borderColor: color, borderWidth: 4.2, pointRadius: 0, borderCapStyle: "round", borderJoinStyle: "round", fill: false });
const dots = (data: any, color: string, r: number) => ({ data, showLine: false, pointRadius: r, pointStyle: "circle", backgroundColor: color, borderWidth: 0 });
const rocLine = (data: any, color: string) => ({ data, borderColor: color, borderWidth: 2.6, pointRadius: 0, fill: false, borderJoinStyle: "miter" });

/* ================= chart specs ================= */
const A_AREA: Area = [80, 49, 280, 195.4];
const A_FR = frame(A_AREA, 30, 14);
const A_SPEC = {
  frame: A_FR,
  config: {
    type: "line",
    data: { datasets: kmDatasets({ t: A_HIGH_T, s: A_HIGH_S, u: A_HIGH_U, l: A_HIGH_L, c: A_HIGH_CENS }, { t: A_LOW_T, s: A_LOW_S, u: A_LOW_U, l: A_LOW_L, c: A_LOW_CENS }) },
    options: baseOptions(A_FR, kmScales(-1.1, 20.9, A_X_TICKS, A_X_LABELS, -0.04, 1.05, 30, 14, 0.5)),
  },
};

const E_AREA: Area = [393.3, 48.3, 594, 195];
const E_FR = frame(E_AREA, 30, 14);
const E_SPEC = {
  frame: E_FR,
  config: {
    type: "line",
    data: { datasets: kmDatasets({ t: E_HIGH_T, s: E_HIGH_S, u: E_HIGH_U, l: E_HIGH_L, c: E_HIGH_CENS }, { t: E_LOW_T, s: E_LOW_S, u: E_LOW_U, l: E_LOW_L, c: E_LOW_CENS }) },
    options: baseOptions(E_FR, kmScales(-0.75, 15.75, E_X_TICKS, E_X_LABELS, -0.05, 1.05, 30, 14, 1.3)),
  },
};

function rocSpec(area: Area, green: number[][], blue: number[][], red: number[][], xPad: number, yPad: number) {
  const fr = frame(area, 20, 18);
  return {
    frame: fr,
    config: {
      type: "line",
      data: {
        datasets: [
          dashed([{ x: ROC_MIN, y: ROC_MIN }, { x: ROC_MAX, y: ROC_MAX }]),
          rocLine(pts(red), ROC_RED),
          rocLine(pts(blue), ROC_BLUE),
          rocLine(pts(green), ROC_GREEN),
        ],
      },
      options: baseOptions(fr, rScales({ xMin: ROC_MIN, xMax: ROC_MAX, yMin: ROC_MIN, yMax: ROC_MAX, xTicks: ROC_TICKS, yTicks: ROC_TICKS, xLabels: ROC_LABELS, yLabels: ROC_LABELS, wy: 20, hx: 18, xPad, yPad, font: 7.5 })),
    },
    plugins: [boxPlugin],
  };
}
const B_SPEC = rocSpec([89.4, 262.5, 268.6, 410.5], B_GREEN, B_BLUE, B_RED, 6, 4.8);
const F_SPEC = rocSpec([401.3, 259.4, 581.7, 408.8], F_GREEN, F_BLUE, F_RED, 7, 4.8);

function riskSpec(area: Area, o: any) {
  const fr = frame(area, 20, 16);
  return {
    frame: fr,
    config: {
      type: "line",
      data: {
        datasets: [
          dashed([{ x: o.cutIndex, y: o.yMin }, { x: o.cutIndex, y: o.yMax }]),
          dashed([{ x: o.xMin, y: o.cutScore }, { x: o.xMax, y: o.cutScore }]),
          dots(pts(o.highDots), PT_RED, 2.1),
          curve(pts(o.high), PT_RED),
          dots(pts(o.lowDots), PT_BLUE, 2.1),
          curve(pts(o.low), PT_BLUE),
        ],
      },
      options: baseOptions(fr, rScales({ xMin: o.xMin, xMax: o.xMax, yMin: o.yMin, yMax: o.yMax, xTicks: o.xTicks, yTicks: o.yTicks, yLabels: o.yLabels, wy: 20, hx: 16, xPad: o.xPad, yPad: o.yPad, font: 8 })),
    },
    plugins: [boxPlugin],
  };
}
const C_SPEC = riskSpec([27, 479, 311, 652], { cutIndex: C_CUT_INDEX, cutScore: C_CUT_SCORE, xMin: C_X_MIN, xMax: C_X_MAX, yMin: C_Y_MIN, yMax: C_Y_MAX, xTicks: C_X_TICKS, yTicks: C_Y_TICKS, yLabels: C_Y_LABELS, low: C_LOW, high: C_HIGH, lowDots: C_LOW_DOTS, highDots: [], xPad: 4.2, yPad: 0.2 });
const G_SPEC = riskSpec([369, 477, 646, 653], { cutIndex: G_CUT_INDEX, cutScore: G_CUT_SCORE, xMin: G_X_MIN, xMax: G_X_MAX, yMin: G_Y_MIN, yMax: G_Y_MAX, xTicks: G_X_TICKS, yTicks: G_Y_TICKS, yLabels: G_Y_LABELS, low: G_LOW, high: G_HIGH, lowDots: G_LOW_DOTS, highDots: G_HIGH_DOTS, xPad: 3.2, yPad: 4.4 });

function statusSpec(area: Area, o: any) {
  const fr = frame(area, 20, o.hx);
  return {
    frame: fr,
    config: {
      type: "line",
      data: {
        datasets: [
          dashed([{ x: o.cutIndex, y: o.yMin }, { x: o.cutIndex, y: o.yMax }]),
          dots(pts(o.dead), PT_RED, o.r),
          dots(pts(o.alive), PT_BLUE, o.r),
        ],
      },
      options: baseOptions(fr, rScales({ xMin: o.xMin, xMax: o.xMax, yMin: o.yMin, yMax: o.yMax, xTicks: o.xTicks, xLabels: o.xLabels, yTicks: o.yTicks, wy: 20, hx: o.hx, xPad: o.xPad, yPad: o.yPad, font: 8, lineHeight: o.lineHeight, hiddenTick: o.hiddenTick })),
    },
    plugins: o.hiddenTick !== undefined ? [boxPlugin, loweredTickPlugin] : [boxPlugin],
  };
}
const D_SPEC = statusSpec([27, 721, 307, 896], { cutIndex: D_CUT_INDEX, xMin: D_X_MIN, xMax: D_X_MAX, yMin: D_Y_MIN, yMax: D_Y_MAX, xTicks: D_X_TICKS, yTicks: D_Y_TICKS, dead: D_DEAD, alive: D_ALIVE, r: 2.1, yPad: 2.5, xPad: 3.2, hx: 16 });
const H_SPEC = statusSpec([365, 723, 646, 896], { cutIndex: H_CUT_INDEX, xMin: H_X_MIN, xMax: H_X_MAX, yMin: H_Y_MIN, yMax: H_Y_MAX, xTicks: H_X_TICKS, xLabels: H_X_LABELS, yTicks: H_Y_TICKS, dead: H_DEAD, alive: H_ALIVE, r: 2.25, yPad: 3.5, xPad: 4, hx: 24, lineHeight: 0.95, hiddenTick: H_LOWERED_TICK });

/* ================= components ================= */
function ChartCanvas({ spec }: { spec: any }) {
  const ref = useRef<HTMLCanvasElement | null>(null);
  useEffect(() => {
    if (!ref.current) return;
    const cfg: any = { ...spec.config };
    if (spec.plugins) cfg.plugins = spec.plugins;
    const chart = new Chart(ref.current, cfg);
    return () => chart.destroy();
  }, [spec]);
  const f = spec.frame;
  return (
    <canvas
      ref={ref}
      width={f.cw}
      height={f.ch}
      style={{ position: "absolute", left: f.cx, top: f.cy, width: f.cw, height: f.ch }}
    />
  );
}

function T(props: { x: number; y: number; size?: number; rot?: boolean; left?: boolean; serif?: boolean; color?: string; children: any }) {
  const { x, y, size = 8, rot = false, left = false, serif = false, color = "#111", children } = props;
  return (
    <div
      style={{
        position: "absolute",
        left: x,
        top: y,
        transform: `translate(${left ? "0" : "-50%"},-50%)${rot ? " rotate(-90deg)" : ""}`,
        fontSize: size,
        fontFamily: serif ? SERIF : SANS,
        color,
        whiteSpace: "nowrap",
        lineHeight: 1,
      }}
    >
      {children}
    </div>
  );
}

function KmKey({ x, y, band, color }: { x: number; y: number; band: string; color: string }) {
  return (
    <div style={{ position: "absolute", left: x, top: y - 5, width: 10, height: 10, background: band }}>
      <div style={{ position: "absolute", left: 0, top: 3.5, width: 10, height: 3, background: color }} />
    </div>
  );
}

function LineKey({ x, y, w, color }: { x: number; y: number; w: number; color: string }) {
  return <div style={{ position: "absolute", left: x, top: y - 1.3, width: w, height: 2.6, background: color }} />;
}

function Dot({ x, y, color }: { x: number; y: number; color: string }) {
  return <div style={{ position: "absolute", left: x - 2.4, top: y - 2.4, width: 4.8, height: 4.8, borderRadius: "50%", background: color }} />;
}

export default function App() {
  return (
    <div style={{ position: "absolute", left: 0, top: 0, width: 651, height: 945, background: "#fff", overflow: "hidden" }}>
      <ChartCanvas spec={A_SPEC} />
      <ChartCanvas spec={E_SPEC} />
      <ChartCanvas spec={B_SPEC} />
      <ChartCanvas spec={F_SPEC} />
      <ChartCanvas spec={C_SPEC} />
      <ChartCanvas spec={G_SPEC} />
      <ChartCanvas spec={D_SPEC} />
      <ChartCanvas spec={H_SPEC} />

      {/* titles */}
      <T x={170} y={11} size={19} serif color="#333">BC Patients from TCGA</T>
      <T x={490} y={11} size={19} serif color="#333">BC Patients from GEO</T>

      {/* panel letters */}
      <T x={176} y={231} size={18} serif color="#333">a</T>
      <T x={500} y={231} size={18} serif color="#333">e</T>
      <T x={179} y={452.5} size={18} serif color="#333">b</T>
      <T x={501.7} y={452} size={18} serif color="#333">f</T>
      <T x={168.3} y={691.5} size={18} serif color="#333">c</T>
      <T x={508} y={696.5} size={18} serif color="#333">g</T>
      <T x={167.7} y={932} size={18} serif color="#333">d</T>
      <T x={505} y={936.5} size={18} serif color="#333">h</T>

      {/* a: KM TCGA */}
      <T x={56.7} y={122.5} size={9} rot color="#000">Survival probability</T>
      <T x={181} y={216.7} size={9} color="#000">Time(years)</T>
      <T x={131.7} y={32.7} size={7} left color="#000">Risk</T>
      <KmKey x={148.3} y={32.7} band={KM_RED_KEY} color={KM_RED} />
      <T x={161.7} y={32.7} size={7} left color="#000">High risk</T>
      <KmKey x={191.7} y={32.7} band={KM_BLUE_KEY} color={KM_BLUE} />
      <T x={205} y={32.7} size={7} left color="#000">Low risk</T>
      <T x={93.3} y={163.3} size={9} left color="#000">p=1.352e-07</T>

      {/* e: KM GEO */}
      <T x={368.3} y={122} size={9} rot color="#000">Survival probability</T>
      <T x={494.7} y={213} size={9} color="#000">Time(years)</T>
      <T x={445} y={32.3} size={7} left color="#000">Risk</T>
      <KmKey x={461.7} y={32.3} band={KM_RED_KEY} color={KM_RED} />
      <T x={474} y={32.3} size={7} left color="#000">High risk</T>
      <KmKey x={505.7} y={32.3} band={KM_BLUE_KEY} color={KM_BLUE} />
      <T x={518.3} y={32.3} size={7} left color="#000">Low risk</T>
      <T x={406} y={163} size={9} left color="#000">p=4.336e-03</T>

      {/* b: ROC TCGA */}
      <T x={56.7} y={336} size={7.5} rot>Sensitivity</T>
      <T x={180} y={438.3} size={7.5}>1-Specificity</T>
      <LineKey x={165} y={381} w={20} color={ROC_GREEN} />
      <LineKey x={165} y={390.7} w={20} color={ROC_BLUE} />
      <LineKey x={165} y={400} w={20} color={ROC_RED} />
      <T x={187} y={381} size={8.2} left>{B_LEGEND[0]}</T>
      <T x={187} y={390.7} size={8.2} left>{B_LEGEND[1]}</T>
      <T x={187} y={400} size={8.2} left>{B_LEGEND[2]}</T>

      {/* f: ROC GEO */}
      <T x={369.3} y={334} size={7.5} rot>Sensitivity</T>
      <T x={494} y={438} size={7.5}>1-Specificity</T>
      <LineKey x={477.7} y={379.3} w={17.5} color={ROC_GREEN} />
      <LineKey x={477.7} y={389} w={17.5} color={ROC_BLUE} />
      <LineKey x={477.7} y={398.3} w={17.5} color={ROC_RED} />
      <T x={499.3} y={379.3} size={8.2} left>{F_LEGEND[0]}</T>
      <T x={499.3} y={389} size={8.2} left>{F_LEGEND[1]}</T>
      <T x={499.3} y={398.3} size={8.2} left>{F_LEGEND[2]}</T>

      {/* c: risk score TCGA */}
      <T x={5.5} y={565} size={7} rot>Risk score</T>
      <T x={169.3} y={678.3} size={7}>Patients (increasing risk socre)</T>
      <Dot x={36.7} y={489.3} color={PT_RED} />
      <T x={45} y={489.3} size={8} left>High risk</T>
      <Dot x={36.7} y={499.3} color={PT_BLUE} />
      <T x={45} y={499.3} size={8} left>low Risk</T>

      {/* g: risk score GEO */}
      <T x={340.7} y={565} size={7} rot>Risk score</T>
      <T x={508.3} y={678.3} size={7}>Patients (increasing risk socre)</T>
      <Dot x={375} y={490} color={PT_RED} />
      <T x={383.3} y={490} size={8} left>High risk</T>
      <Dot x={375} y={500} color={PT_BLUE} />
      <T x={383.3} y={500} size={8} left>low Risk</T>

      {/* d: survival status TCGA */}
      <T x={5.5} y={825} size={6} rot>Survival time (years)</T>
      <T x={168.3} y={918.3} size={7}>Patients (increasing risk socre)</T>
      <Dot x={33.5} y={731.5} color={PT_RED} />
      <T x={41.7} y={731.5} size={8} left>Dead</T>
      <Dot x={33.5} y={742.3} color={PT_BLUE} />
      <T x={41.7} y={742.3} size={8} left>Alive</T>

      {/* h: survival status GEO */}
      <T x={343.3} y={813.3} size={6.2} rot>Survival time (years)</T>
      <T x={508.3} y={918.3} size={7}>Patients (increasing risk socre)</T>
      <Dot x={373} y={733.3} color={PT_RED} />
      <T x={381} y={733.3} size={8} left>Dead</T>
      <Dot x={373} y={742.7} color={PT_BLUE} />
      <T x={381} y={742.7} size={8} left>Alive</T>
    </div>
  );
}
